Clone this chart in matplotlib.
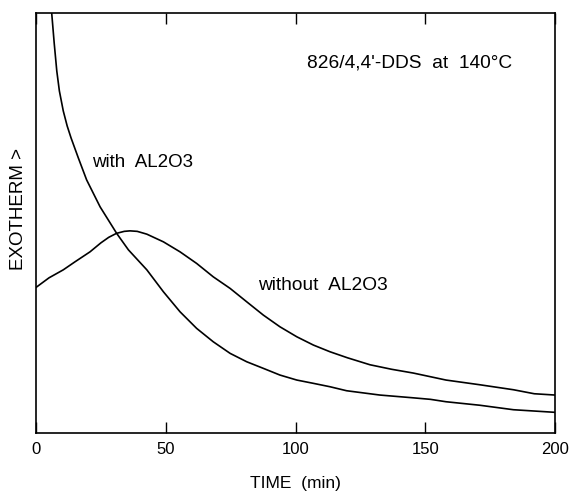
import matplotlib
matplotlib.use('Agg')
import matplotlib.pyplot as plt

# ---- data (time in min, exotherm in arbitrary units) ----
t_without = [0, 5, 10.5, 15, 20.8, 25, 28, 31, 34, 36.2, 39, 42.7, 49.1, 55.5, 61.9,
             68.3, 74.8, 81.2, 87.6, 94, 100.5, 106.9, 113.3, 120, 128.7, 137, 145.4,
             158, 171, 184, 192, 200]
y_without = [145.4, 155, 163, 171, 181, 190, 195.5, 199.5, 201.5, 202, 201.5, 198.7,
             191, 181, 169.4, 156, 144.4, 131, 117.7, 106, 96, 87.7, 81, 75, 68, 63.5,
             59.7, 52.7, 48, 43, 39, 37.7]

t_with = [6.05, 7, 8, 9, 10.5, 12, 13.5, 16.3, 19.5, 24.7, 31.1, 35.6, 42.7, 49.1,
          55.5, 61.9, 68.3, 74.8, 81.2, 87.6, 94, 100.5, 106.9, 113.3, 119.7, 132.5,
          145, 152, 158, 171, 184, 200]
y_with = [419.7, 390, 362, 342, 322, 307, 295, 275, 253, 226, 199.4, 183, 163, 141,
          121, 104.4, 91, 79.4, 71, 64.4, 57.7, 52.7, 49.4, 46, 42, 37.7, 35, 33.4,
          31, 27.5, 23, 20.4]

x_ticks = [0, 50, 100, 150, 200]

plt.rcParams['font.family'] = ['Liberation Sans', 'DejaVu Sans']
plt.rcParams['font.size'] = 12

fig = plt.figure(figsize=(5.70, 4.91), dpi=100)
ax = fig.add_axes([0.0632, 0.1187, 0.9105, 0.8548])

ax.plot(t_without, y_without, color='black', linewidth=1.2)
ax.plot(t_with, y_with, color='black', linewidth=1.2)

ax.set_xlim(0, 200)
ax.set_ylim(0, 420)
ax.set_xticks(x_ticks)
ax.set_yticks([])
ax.tick_params(axis='x', direction='in', length=8, width=1, top=True, pad=7,
               labelsize=12)
for s in ax.spines.values():
    s.set_linewidth(1.2)

ax.set_xlabel('TIME  (min)', fontsize=12.5)
ax.xaxis.set_label_coords(0.5, -0.103)
ax.set_ylabel('EXOTHERM >', fontsize=13.5)
ax.yaxis.set_label_coords(-0.017, 0.532)

ax.text(104.3, 369.7, "826/4,4'-DDS  at  140°C", fontsize=13.8, va='center', ha='left')
ax.text(21.5, 270.5, 'with  AL2O3', fontsize=13.5, va='center', ha='left')
ax.text(85.5, 147.5, 'without  AL2O3', fontsize=13.8, va='center', ha='left')

fig.savefig('out.png', dpi=100)
